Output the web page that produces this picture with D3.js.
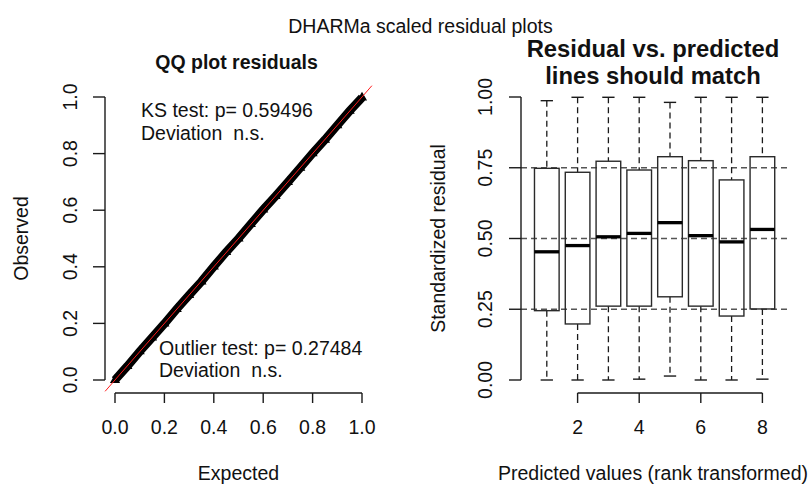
<!DOCTYPE html>
<html>
<head>
<meta charset="utf-8">
<script src="https://cdn.jsdelivr.net/npm/d3@7"></script>
<style>
  html, body { margin: 0; padding: 0; background: #fff; }
  svg text { font-family: "Liberation Sans", Arial, sans-serif; fill: #111; white-space: pre; }
</style>
</head>
<body>
<svg id="chart" width="811" height="484"></svg>
<script>
// QQ plot: expected uniform quantiles and observed scaled residual quantiles
const qqExpected = [0.00, 0.05, 0.10, 0.15, 0.20, 0.25, 0.30, 0.35, 0.40, 0.45, 0.50,
                    0.55, 0.60, 0.65, 0.70, 0.75, 0.80, 0.85, 0.90, 0.95, 1.00];
const qqObserved = [0.000, 0.049, 0.101, 0.150, 0.199, 0.251, 0.300, 0.348, 0.401, 0.452, 0.500,
                    0.551, 0.602, 0.650, 0.699, 0.750, 0.801, 0.849, 0.900, 0.951, 0.998];
const qqTicks = [0, 0.2, 0.4, 0.6, 0.8, 1.0];
const ksText = ["KS test: p= 0.59496", "Deviation  n.s."];
const outlierText = ["Outlier test: p= 0.27484", "Deviation  n.s."];

// Residual vs predicted: boxplot statistics per rank-transformed group
const groups      = [1, 2, 3, 4, 5, 6, 7, 8];
const whiskerLow  = [0.000, 0.000, 0.000, 0.003, 0.014, 0.000, 0.000, 0.003];
const quartileLow = [0.245, 0.198, 0.261, 0.261, 0.294, 0.261, 0.226, 0.251];
const medians     = [0.453, 0.475, 0.506, 0.518, 0.556, 0.510, 0.488, 0.532];
const quartileHigh= [0.748, 0.734, 0.773, 0.742, 0.789, 0.775, 0.707, 0.789];
const whiskerHigh = [0.987, 0.999, 0.999, 0.999, 0.981, 0.999, 0.999, 0.999];
const refLevels   = [0.25, 0.50, 0.75];
const resTicks    = [0.00, 0.25, 0.50, 0.75, 1.00];
const groupTicks  = [2, 4, 6, 8];

const svg = d3.select("#chart");
const FS = 19.5;
const ink = "#1a1a1a";

// Overall title
svg.append("text").attr("x", 420.5).attr("y", 33).attr("text-anchor", "middle")
  .style("font-size", FS + "px").text("DHARMa scaled residual plots");

// ---------- Left panel: QQ plot ----------
const xq = d3.scaleLinear().domain([0, 1]).range([115, 362]);
const yq = d3.scaleLinear().domain([0, 1]).range([380, 97]);

const left = svg.append("g");
left.append("text").attr("x", 236.5).attr("y", 69).attr("text-anchor", "middle")
  .style("font-size", FS + "px").style("font-weight", "bold").text("QQ plot residuals");

// y axis
left.append("line").attr("x1", 105).attr("x2", 105).attr("y1", yq(0)).attr("y2", yq(1))
  .attr("stroke", ink).attr("stroke-width", 1.4);
qqTicks.forEach(t => {
  left.append("line").attr("x1", 93).attr("x2", 105).attr("y1", yq(t)).attr("y2", yq(t))
    .attr("stroke", ink).attr("stroke-width", 1.4);
  left.append("text").attr("transform", `translate(77,${yq(t)}) rotate(-90)`)
    .attr("text-anchor", "middle").style("font-size", FS + "px").text(d3.format(".1f")(t));
});
// x axis
left.append("line").attr("x1", xq(0)).attr("x2", xq(1)).attr("y1", 393).attr("y2", 393)
  .attr("stroke", ink).attr("stroke-width", 1.4);
qqTicks.forEach(t => {
  left.append("line").attr("x1", xq(t)).attr("x2", xq(t)).attr("y1", 393).attr("y2", 403)
    .attr("stroke", ink).attr("stroke-width", 1.4);
  left.append("text").attr("x", xq(t)).attr("y", 434).attr("text-anchor", "middle")
    .style("font-size", FS + "px").text(d3.format(".1f")(t));
});
left.append("text").attr("x", 238.5).attr("y", 480).attr("text-anchor", "middle")
  .style("font-size", FS + "px").text("Expected");
left.append("text").attr("transform", "translate(28,238.5) rotate(-90)")
  .attr("text-anchor", "middle").style("font-size", FS + "px").text("Observed");

// residual quantiles: dense band of triangles
const qqPts = qqExpected.map((e, i) => [e, qqObserved[i]]);
left.append("path").datum(qqPts)
  .attr("d", d3.line().x(d => xq(d[0])).y(d => yq(d[1])))
  .attr("fill", "none").attr("stroke", "#000").attr("stroke-width", 8.5);
left.selectAll("path.tri").data(qqPts).join("path").attr("class", "tri")
  .attr("transform", d => `translate(${xq(d[0])},${yq(d[1])})`)
  .attr("d", d3.symbol(d3.symbolTriangle, 26))
  .attr("fill", "#000").attr("stroke", "#000").attr("stroke-width", 1.4);

// 1:1 reference line, clipped to the plot region
const ext = [-0.04, 1.04];
left.append("path").datum([[ext[0], ext[0]], [ext[1], ext[1]]])
  .attr("d", d3.line().x(d => xq(d[0])).y(d => yq(d[1])))
  .attr("stroke", "#ff1a1a").attr("stroke-width", 1).attr("fill", "none");

// test annotations
[[ksText, 141, 116.7, 140], [outlierText, 159, 355, 377]].forEach(([lines, x, y1, y2]) => {
  left.append("text").attr("x", x).attr("y", y1).style("font-size", FS + "px").text(lines[0]);
  left.append("text").attr("x", x).attr("y", y2).style("font-size", FS + "px").text(lines[1]);
});

// ---------- Right panel: residual vs predicted ----------
const xr = d3.scaleLinear().domain([0, 8]).range([516, 516 + 8 * 30.8]);
const yr = d3.scaleLinear().domain([0, 1]).range([380, 97]);
const right = svg.append("g");

right.append("text").attr("x", 653).attr("y", 57).attr("text-anchor", "middle")
  .style("font-size", "23.8px").style("font-weight", "bold").text("Residual vs. predicted");
right.append("text").attr("x", 653).attr("y", 84).attr("text-anchor", "middle")
  .style("font-size", "23.8px").style("font-weight", "bold").text("lines should match");

// reference levels
refLevels.forEach(v => {
  right.append("line").attr("x1", 521).attr("x2", xr(8.82)).attr("y1", yr(v)).attr("y2", yr(v))
    .attr("stroke", "#555").attr("stroke-width", 1.3).attr("stroke-dasharray", "6,4");
});

// boxes
const bw = 0.8 * 30.8;
groups.forEach((g, i) => {
  const cx = xr(g);
  const box = right.append("g");
  box.append("line").attr("x1", cx).attr("x2", cx).attr("y1", yr(whiskerHigh[i])).attr("y2", yr(quartileHigh[i]))
    .attr("stroke", ink).attr("stroke-width", 1.3).attr("stroke-dasharray", "6,4");
  box.append("line").attr("x1", cx).attr("x2", cx).attr("y1", yr(quartileLow[i])).attr("y2", yr(whiskerLow[i]))
    .attr("stroke", ink).attr("stroke-width", 1.3).attr("stroke-dasharray", "6,4");
  [whiskerHigh[i], whiskerLow[i]].forEach(v => {
    box.append("line").attr("x1", cx - bw / 4).attr("x2", cx + bw / 4).attr("y1", yr(v)).attr("y2", yr(v))
      .attr("stroke", ink).attr("stroke-width", 1.4);
  });
  box.append("rect").attr("x", cx - bw / 2).attr("width", bw)
    .attr("y", yr(quartileHigh[i])).attr("height", yr(quartileLow[i]) - yr(quartileHigh[i]))
    .attr("fill", "none").attr("stroke", "#2a2a2a").attr("stroke-width", 1.4);
  box.append("line").attr("x1", cx - bw / 2).attr("x2", cx + bw / 2).attr("y1", yr(medians[i])).attr("y2", yr(medians[i]))
    .attr("stroke", "#000").attr("stroke-width", 3.3);
});

// y axis
right.append("line").attr("x1", 521).attr("x2", 521).attr("y1", yr(0)).attr("y2", yr(1))
  .attr("stroke", ink).attr("stroke-width", 1.4);
resTicks.forEach(t => {
  right.append("line").attr("x1", 509).attr("x2", 521).attr("y1", yr(t)).attr("y2", yr(t))
    .attr("stroke", ink).attr("stroke-width", 1.4);
  right.append("text").attr("transform", `translate(492,${yr(t)}) rotate(-90)`)
    .attr("text-anchor", "middle").style("font-size", FS + "px").text(d3.format(".2f")(t));
});
right.append("text").attr("transform", "translate(445,238.5) rotate(-90)")
  .attr("text-anchor", "middle").style("font-size", FS + "px").text("Standardized residual");

// x axis
right.append("line").attr("x1", xr(2)).attr("x2", xr(8)).attr("y1", 393).attr("y2", 393)
  .attr("stroke", ink).attr("stroke-width", 1.4);
groupTicks.forEach(t => {
  right.append("line").attr("x1", xr(t)).attr("x2", xr(t)).attr("y1", 393).attr("y2", 403)
    .attr("stroke", ink).attr("stroke-width", 1.4);
  right.append("text").attr("x", xr(t)).attr("y", 434).attr("text-anchor", "middle")
    .style("font-size", FS + "px").text(t);
});
right.append("text").attr("x", 653).attr("y", 480).attr("text-anchor", "middle")
  .style("font-size", FS + "px").text("Predicted values (rank transformed)");
</script>
</body>
</html>
